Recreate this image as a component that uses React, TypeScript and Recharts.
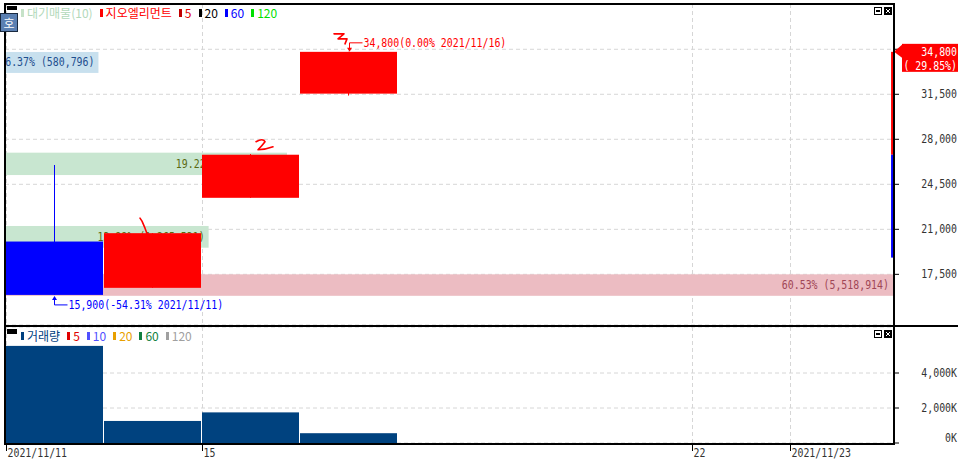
import React from 'react';
import {
  ComposedChart,
  Bar,
  XAxis,
  YAxis,
  CartesianGrid,
  ReferenceArea,
  ReferenceDot,
} from 'recharts';

// ---------------- data ----------------
const dates = ['11/11', '11/12', '11/15', '11/16', '11/17', '11/18', '11/19', '11/22', '11/23'];
const fullDates = ['2021/11/11', '2021/11/12', '2021/11/15', '2021/11/16', '2021/11/17', '2021/11/18', '2021/11/19', '2021/11/22', '2021/11/23'];
const opens: (number | null)[] = [20050, 16450, 23450, 31550, null, null, null, null, null];
const highs: (number | null)[] = [26000, 20700, 26850, 34800, null, null, null, null, null];
const lows: (number | null)[] = [15900, 16450, 23450, 31400, null, null, null, null, null];
const closes: (number | null)[] = [15900, 20700, 26800, 34800, null, null, null, null, null];
const volumes: (number | null)[] = [5550000, 1260000, 1750000, 560000, null, null, null, null, null];

const xTickDates = ['11/11', '11/15', '11/22', '11/23'];
const xTickLabels = ['2021/11/11', '15', '22', '2021/11/23'];
const priceTicks = [17500, 21000, 24500, 28000, 31500, 35000];
const volumeTicks = [0, 2000000, 4000000];

// 대기매물 (volume by price) bands
const profileLow = [15830, 19570, 25220, 33160];
const profileHigh = [17500, 21260, 26960, 34790];
const profilePct = [60.53, 13.88, 19.22, 6.37];
const profileVol = [5518914, 1265531, 1752419, 580796];
const profileFill = ['#ecbcc2', '#c8e6d0', '#c8e6d0', '#c8e0ee'];
const profileTextColor = ['#a04656', '#5a6a10', '#5a6a10', '#1f4f8f'];

// right-edge range indicator
const rangeFrom = [26800, 18800];
const rangeTo = [34800, 26800];
const rangeColor = ['#ff0000', '#0000ff'];

// hand-drawn marks (1, 2, 3)
const markDates = ['11/12', '11/15', '11/16'];
const markPrices = [20700, 26800, 34800];
const markPaths = [
  'M -13 -15 L -11 -12 L -8 -5 L -5 3',
  'M 5 -13 Q 12 -17 14 -13 Q 11 -9 7 -5 Q 14 -5 22 -8',
  'M -15 -18 L -5 -18 L -11 -13 L -2 -13 L -4 -8',
];

// --------------- derived --------------
const rows = dates.map((d, i) => ({
  date: d,
  o: opens[i],
  h: highs[i],
  l: lows[i],
  c: closes[i],
  range: highs[i] != null ? [lows[i], highs[i]] : null,
  vol: volumes[i],
}));

const validIdx = rows.map((r, i) => (r.c != null ? i : -1)).filter((i) => i >= 0);
const lastIdx = validIdx[validIdx.length - 1];
const lastClose = closes[lastIdx] as number;
const prevClose = closes[lastIdx - 1] as number;
const changePct = ((lastClose / prevClose - 1) * 100).toFixed(2);
let hiIdx = validIdx[0];
let loIdx = validIdx[0];
validIdx.forEach((i) => {
  if ((highs[i] as number) >= (highs[hiIdx] as number)) hiIdx = i;
  if ((lows[i] as number) < (lows[loIdx] as number)) loIdx = i;
});
const hiVal = highs[hiIdx] as number;
const loVal = lows[loIdx] as number;
const fmt = (v: number) => v.toLocaleString('en-US');
const hiText = `${fmt(hiVal)}(${((hiVal / lastClose - 1) * 100).toFixed(2)}% ${fullDates[hiIdx]})`;
const loText = `${fmt(loVal)}(${((loVal / lastClose - 1) * 100).toFixed(2)}% ${fullDates[loIdx]})`;

const VP_MAX = 60.6;

const MONO = '"DejaVu Sans Mono", "Liberation Mono", monospace';
const KR = '"Noto Sans CJK KR", "Noto Sans", sans-serif';
const GRID = '#d6d6d6';

// ------------- helpers ---------------
const MText = ({ x, y, anchor = 'start', fill = '#333', children, cw = 5.95, size = 12 }: any) => {
  const s = String(children);
  return (
    <text
      x={x}
      y={y}
      textAnchor={anchor}
      fill={fill}
      fontFamily={MONO}
      fontSize={size}
      textLength={s.length * cw}
      lengthAdjust="spacingAndGlyphs"
    >
      {s}
    </text>
  );
};

const Candle = (p: any) => {
  const { x, y, width, height, payload } = p;
  if (!payload || payload.h == null) return <g />;
  const top = Math.min(y, y + height);
  const h = Math.abs(height);
  const span = payload.h - payload.l;
  const py = (v: number) => (span === 0 ? top : top + ((payload.h - v) / span) * h);
  const up = payload.c >= payload.o;
  const color = up ? '#ff0000' : '#0000ff';
  const bTop = py(Math.max(payload.o, payload.c));
  const bBot = py(Math.min(payload.o, payload.c));
  const w = width - 1;
  const cx = Math.floor(x + w / 2) + 0.5;
  return (
    <g>
      <line x1={cx} x2={cx} y1={top} y2={top + h} stroke={color} strokeWidth={1} />
      <rect x={x} y={bTop} width={w} height={Math.max(1, bBot - bTop)} fill={color} />
    </g>
  );
};

const VolBar = (p: any) => {
  const { x, y, width, height } = p;
  if (!height || height <= 0) return <g />;
  return <rect x={x} y={y} width={width - 1} height={height} fill="#00427f" />;
};

const PriceTick = (p: any) => {
  const { y, payload } = p;
  return <MText x={957} y={y + 4} anchor="end">{fmt(payload.value)}</MText>;
};

const VolTick = (p: any) => {
  const { y, payload } = p;
  const v = payload.value as number;
  return (
    <MText x={957} y={y + (v === 0 ? -1 : 4)} anchor="end">
      {`${fmt(v / 1000)}K`}
    </MText>
  );
};

const DateTick = (p: any) => {
  const { y, payload } = p;
  const start = Math.round(payload.coordinate - (payload.offset ?? 0)) + 0.5;
  const idx = xTickDates.indexOf(payload.value);
  return (
    <g>
      <line x1={start} x2={start} y1={y + 2} y2={y + 8} stroke="#000" />
      <MText x={start + 1} y={y + 14}>{xTickLabels[idx] ?? payload.value}</MText>
    </g>
  );
};

const vGen = ({ xAxis }: any) => {
  const s = xAxis?.scale;
  if (!s) return [];
  const fn = typeof s === 'function' ? s : (v: any) => s.map(v);
  return xTickDates
    .map((d) => fn(d))
    .filter((v: any) => typeof v === 'number' && !isNaN(v))
    .map((v: number) => Math.round(v) + 0.5);
};

const Marker = ({ color }: { color: string }) => (
  <span style={{ display: 'inline-block', width: 3, height: 8, background: color, marginRight: 3 }} />
);

const LegendItem = ({ color, text, marker }: any) => (
  <span style={{ display: 'inline-flex', alignItems: 'center', marginRight: 7, color }}>
    <Marker color={marker ?? color} />
    <span>{text}</span>
  </span>
);

const PanelIcons = ({ top }: { top: number }) => (
  <svg style={{ position: 'absolute', left: 874, top }} width={18} height={8}>
    <rect x={0.5} y={0.5} width={7} height={7} fill="#fff" stroke="#000" />
    <rect x={2} y={3} width={4} height={2} fill="#000" />
    <rect x={10} y={0} width={8} height={8} fill="#000" />
    <path d="M 12 2 L 16 6 M 16 2 L 12 6" stroke="#fff" strokeWidth={1} />
  </svg>
);

const line = (l: number, t: number, w: number, h: number) => (
  <div style={{ position: 'absolute', left: l, top: t, width: w, height: h, background: '#000' }} />
);

const PriceLabel = (p: any) => {
  const cx = p.cx;
  const cy = p.cy;
  return (
    <g>
      <polygon points={`${cx},${cy} ${cx + 8},${cy - 7} ${cx + 8},${cy + 6}`} fill="#ff0000" />
      <rect x={cx + 8} y={cy - 8} width={56} height={28} fill="#ff0000" />
      <MText x={cx + 63} y={cy + 4} anchor="end" fill="#fff">{fmt(lastClose)}</MText>
      <MText x={cx + 63} y={cy + 18} anchor="end" fill="#fff">{`( ${changePct}%)`}</MText>
    </g>
  );
};

export default function App() {
  return (
    <div
      style={{
        position: 'absolute',
        left: 0,
        top: 0,
        width: 958,
        height: 461,
        background: '#fff',
        overflow: 'hidden',
      }}
    >
      {/* price panel */}
      <div style={{ position: 'absolute', left: 0, top: 0 }}>
        <ComposedChart
          width={958}
          height={326}
          data={rows}
          margin={{ top: 4, right: 0, bottom: 1, left: 5 }}
          barCategoryGap={0}
          barGap={0}
        >
          <CartesianGrid
            xAxisId="c"
            stroke={GRID}
            strokeDasharray="4 3"
            verticalCoordinatesGenerator={vGen}
          />
          <XAxis xAxisId="c" dataKey="date" type="category" hide padding={{ left: 1, right: 6 }} />
          <XAxis
            xAxisId="vp"
            dataKey="vpShare"
            type="number"
            domain={[0, VP_MAX]}
            allowDataOverflow
            hide
          />
          <YAxis
            orientation="right"
            width={64}
            domain={[13560, 38520]}
            allowDataOverflow
            ticks={priceTicks}
            interval={0}
            axisLine={false}
            tickLine={{ stroke: '#000' }}
            tickSize={5}
            tick={<PriceTick />}
          />
          {profilePct.map((pct, i) => (
            <ReferenceArea
              key={'vp' + i}
              xAxisId="vp"
              x1={0}
              x2={pct}
              y1={profileLow[i]}
              y2={profileHigh[i]}
              ifOverflow="visible"
              shape={(p: any) => (
                <g>
                  <rect x={p.x} y={p.y} width={p.width} height={p.height} fill={profileFill[i]} />
                  <MText x={p.x + p.width - 4} y={p.y + p.height / 2 + 4} anchor="end" fill={profileTextColor[i]}>
                    {`${pct.toFixed(2)}% (${fmt(profileVol[i])})`}
                  </MText>
                </g>
              )}
            />
          ))}
          {rangeFrom.map((f, i) => (
            <ReferenceArea
              key={'rg' + i}
              xAxisId="vp"
              x1={VP_MAX - 0.2}
              x2={VP_MAX}
              y1={f}
              y2={rangeTo[i]}
              ifOverflow="visible"
              shape={(p: any) => (
                <rect x={p.x} y={p.y} width={p.width} height={p.height} fill={rangeColor[i]} />
              )}
            />
          ))}
          <Bar xAxisId="c" dataKey="range" shape={<Candle />} isAnimationActive={false} />
          <ReferenceDot
            xAxisId="c"
            x={dates[hiIdx]}
            y={hiVal}
            ifOverflow="visible"
            shape={(p: any) => {
              const cx = Math.round(p.cx) + 0.5;
              const cy = p.cy;
              return (
                <g>
                  <line x1={cx} x2={cx} y1={cy - 1} y2={cy - 9} stroke="#ff0000" />
                  <line x1={cx} x2={cx + 13} y1={cy - 9} y2={cy - 9} stroke="#ff0000" />
                  <polygon points={`${cx - 2.5},${cy - 4} ${cx + 2.5},${cy - 4} ${cx},${cy}`} fill="#ff0000" />
                  <MText x={cx + 14} y={cy - 5} fill="#ff0000">{hiText}</MText>
                </g>
              );
            }}
          />
          <ReferenceDot
            xAxisId="c"
            x={dates[loIdx]}
            y={loVal}
            ifOverflow="visible"
            shape={(p: any) => {
              const cx = Math.round(p.cx) - 0.5;
              const cy = p.cy;
              return (
                <g>
                  <line x1={cx} x2={cx} y1={cy + 2} y2={cy + 10} stroke="#0000ff" />
                  <line x1={cx} x2={cx + 13} y1={cy + 10} y2={cy + 10} stroke="#0000ff" />
                  <polygon points={`${cx - 2.5},${cy + 5} ${cx + 2.5},${cy + 5} ${cx},${cy + 1}`} fill="#0000ff" />
                  <MText x={cx + 14} y={cy + 14} fill="#0000ff">{loText}</MText>
                </g>
              );
            }}
          />
          {markDates.map((d, i) => (
            <ReferenceDot
              key={'mk' + i}
              xAxisId="c"
              x={d}
              y={markPrices[i]}
              ifOverflow="visible"
              shape={(p: any) => (
                <path
                  d={markPaths[i]}
                  transform={`translate(${p.cx},${p.cy})`}
                  fill="none"
                  stroke="#ff0000"
                  strokeWidth={1.6}
                  strokeLinejoin="round"
                  strokeLinecap="round"
                />
              )}
            />
          ))}
          <ReferenceDot
            xAxisId="vp"
            x={VP_MAX}
            y={lastClose}
            ifOverflow="visible"
            zIndex={3000}
            shape={(p: any) => <PriceLabel {...p} />}
          />
        </ComposedChart>
      </div>

      {/* volume panel */}
      <div style={{ position: 'absolute', left: 0, top: 326 }}>
        <ComposedChart
          width={958}
          height={135}
          data={rows}
          margin={{ top: 1, right: 0, bottom: 0, left: 5 }}
          barCategoryGap={0}
          barGap={0}
        >
          <CartesianGrid stroke={GRID} strokeDasharray="4 3" verticalCoordinatesGenerator={vGen} />
          <XAxis
            dataKey="date"
            type="category"
            height={18}
            padding={{ left: 1, right: 6 }}
            ticks={xTickDates}
            interval={0}
            axisLine={false}
            tickLine={false}
            tickSize={0}
            tickMargin={0}
            tick={<DateTick />}
          />
          <YAxis
            orientation="right"
            width={64}
            domain={[0, 6630000]}
            allowDataOverflow
            ticks={volumeTicks}
            interval={0}
            axisLine={false}
            tickLine={{ stroke: '#000' }}
            tickSize={5}
            tick={<VolTick />}
          />
          <Bar dataKey="vol" shape={<VolBar />} isAnimationActive={false} />
        </ComposedChart>
      </div>

      {/* frame lines */}
      {line(4, 3, 891, 2)}
      {line(4, 3, 2, 442)}
      {line(893, 3, 2, 442)}
      {line(4, 325, 954, 2)}
      {line(4, 443, 891, 2)}

      {/* panel decorations */}
      <div style={{ position: 'absolute', left: 7, top: 6, width: 10, height: 4, background: '#000' }} />
      <div
        style={{
          position: 'absolute',
          left: 0,
          top: 13,
          width: 16,
          height: 17,
          background: '#5b80b2',
          border: '1px solid #1a2a40',
          color: '#fff',
          fontFamily: KR,
          fontSize: 12,
          lineHeight: '17px',
          textAlign: 'center',
        }}
      >
        호
      </div>
      <PanelIcons top={7} />
      <div style={{ position: 'absolute', left: 7, top: 329, width: 10, height: 5, background: '#000' }} />
      <PanelIcons top={330} />

      {/* legends */}
      <div
        style={{
          position: 'absolute',
          left: 21,
          top: 5,
          display: 'flex',
          fontFamily: KR,
          fontSize: 12,
          lineHeight: '16px',
          whiteSpace: 'nowrap',
        }}
      >
        <LegendItem color="#b2d9ba" marker="#c6e2c8" text="대기매물(10)" />
        <LegendItem color="#ff0000" text="지오엘리먼트" />
        <LegendItem color="#e00000" marker="#c00000" text="5" />
        <LegendItem color="#000000" text="20" />
        <LegendItem color="#0000ff" text="60" />
        <LegendItem color="#00e000" text="120" />
      </div>
      <div
        style={{
          position: 'absolute',
          left: 21,
          top: 328,
          display: 'flex',
          fontFamily: KR,
          fontSize: 12,
          lineHeight: '16px',
          whiteSpace: 'nowrap',
        }}
      >
        <LegendItem color="#00407f" text="거래량" />
        <LegendItem color="#e00000" text="5" />
        <LegendItem color="#5050ff" text="10" />
        <LegendItem color="#e8a000" text="20" />
        <LegendItem color="#108040" text="60" />
        <LegendItem color="#a0a0a0" text="120" />
      </div>
    </div>
  );
}
